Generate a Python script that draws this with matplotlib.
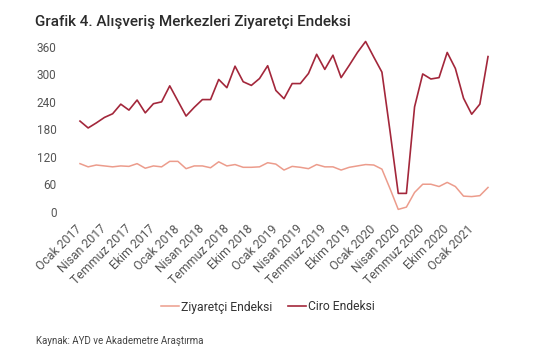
import numpy as np
import matplotlib.pyplot as plt

plt.rcParams['font.family'] = ['Roboto', 'DejaVu Sans']

# monthly index values, Ocak 2017 - Mart 2021
ziyaretci = [105, 98, 102, 100, 98, 100, 99, 105, 95, 100, 98, 110,
             110, 94, 100, 100, 96, 109, 100, 103, 97, 97, 98, 107,
             104, 91, 99, 97, 94, 103, 98, 98, 91, 97, 100, 103,
             102, 93, 50, 5, 10, 42, 60, 60, 55, 64, 55, 34,
             33, 35, 53]
ciro = [198, 183, 194, 206, 214, 235, 222, 244, 216, 236, 240, 275,
        242, 209, 228, 245, 245, 289, 271, 318, 284, 276, 291, 319,
        265, 247, 280, 280, 302, 344, 311, 342, 293, 320, 348, 372,
        338, 305, 175, 40, 40, 229, 301, 290, 293, 348, 313, 248,
        213, 235, 339]

months = ["Ocak", "Nisan", "Temmuz", "Ekim"]
years = [2017, 2018, 2019, 2020, 2021]
tick_labels = [f"{m} {y}" for y in years for m in months][:17]
tick_pos = np.arange(0, 51, 3)

yticks = [0, 60, 120, 180, 240, 300, 360]

x = np.arange(len(ciro))

fig = plt.figure(figsize=(5.55, 3.55), dpi=100)
ax = fig.add_axes([0.1294, 0.4037, 0.7646, 0.4898])

ax.plot(x, ziyaretci, color="#EC9C8C", lw=1.1, label="Ziyaretçi Endeksi")
ax.plot(x, ciro, color="#A3273B", lw=1.2, label="Ciro Endeksi")

ax.set_xlim(-1, 51)
ax.set_ylim(0, 380)
ax.set_yticks(yticks)
ax.set_xticks(tick_pos)
ax.set_xticklabels(tick_labels, rotation=45, ha="right", va="center",
                   rotation_mode="anchor", fontsize=8.8)
ax.tick_params(axis="both", length=0, colors="#555555")
ax.tick_params(axis="y", pad=11, labelsize=8.5)
ax.tick_params(axis="x", pad=11)
for s in ax.spines.values():
    s.set_visible(False)

fig.text(35 / 555, 1 - 22 / 355, "Grafik 4. Alışveriş Merkezleri Ziyaretçi Endeksi",
         fontsize=11, color="#2b2b2b", va="center", ha="left", fontweight="medium")

fig.legend(loc="center", bbox_to_anchor=(268 / 555, 1 - 307 / 355), ncol=2,
           frameon=False, fontsize=8.7, handlelength=1.5, handletextpad=0.15,
           columnspacing=1.3, labelcolor="#333333")

fig.text(36 / 555, 1 - 341 / 355, "Kaynak: AYD ve Akademetre Araştırma",
         fontsize=7, color="#444444", va="center", ha="left")

fig.savefig("out.png", dpi=100)
